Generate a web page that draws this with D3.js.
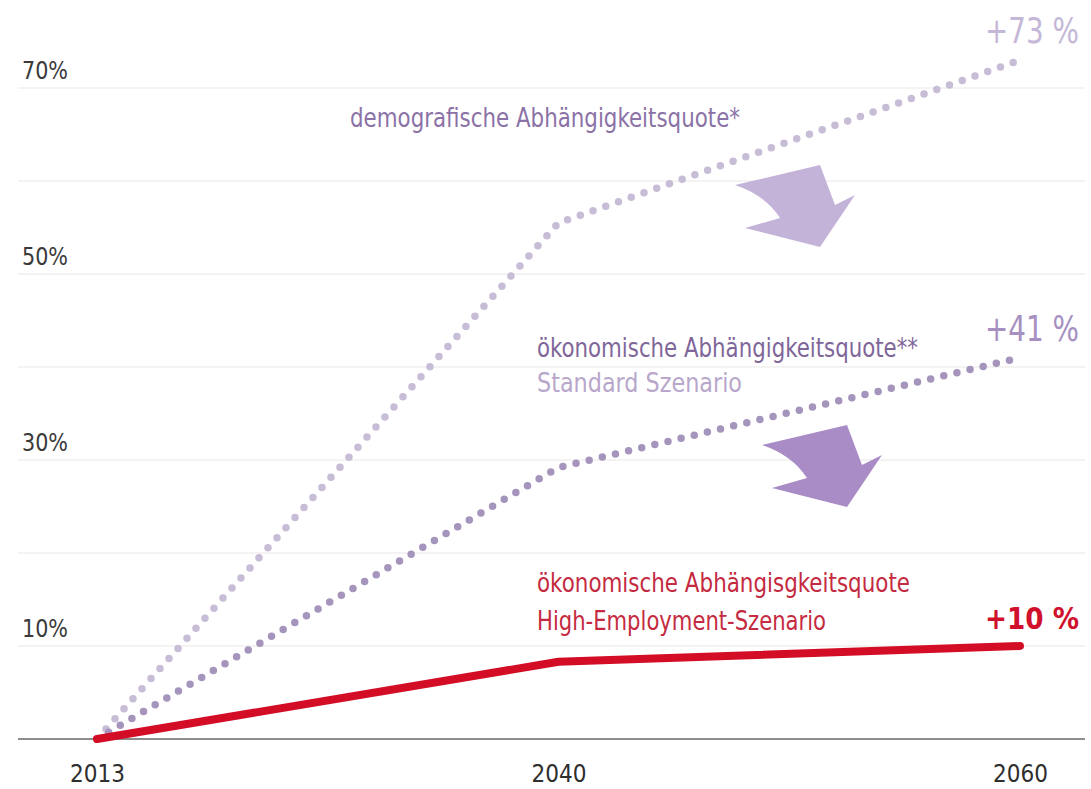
<!DOCTYPE html>
<html><head><meta charset="utf-8">
<script src="https://cdn.jsdelivr.net/npm/d3@7/dist/d3.min.js"></script>
<style>
html,body{margin:0;padding:0;background:#fff;}
text{font-family:"DejaVu Sans Condensed","Liberation Sans Narrow","Roboto",sans-serif;}
</style></head><body>
<svg id="c" width="1091" height="789"></svg>
<script>
const years = ["2013", "2040", "2060"];
const demografisch = [0, 55.5, 73];
const oekoStandard = [0, 29.2, 41];
const oekoHigh = [0, 8.3, 10];
const gridTicks = [10, 20, 30, 40, 50, 60, 70];
const labelTicks = [10, 30, 50, 70];
const endLabels = ["+73 %", "+41 %", "+10 %"];

const svg = d3.select("#c");
const x = d3.scalePoint().domain(years).range([97, 1020]);
const y = d3.scaleLinear().domain([0, 70]).range([739, 88]);

// gridlines
svg.append("g").selectAll("line").data(gridTicks).join("line")
  .attr("x1", 18).attr("x2", 1085)
  .attr("y1", d => y(d)).attr("y2", d => y(d))
  .attr("stroke", "#f0eeee").attr("stroke-width", 1.5);

// y labels
svg.append("g").selectAll("text").data(labelTicks).join("text")
  .attr("x", 22).attr("y", d => y(d) - 9)
  .attr("font-size", 25).attr("fill", "#3a3a3a")
  .attr("textLength", 46).attr("lengthAdjust", "spacingAndGlyphs")
  .text(d => d + "%");

// x axis line
svg.append("line").attr("x1", 18).attr("x2", 1085)
  .attr("y1", y(0)).attr("y2", y(0))
  .attr("stroke", "#8d8d8d").attr("stroke-width", 2);

// x labels
svg.append("g").selectAll("text").data(years).join("text")
  .attr("x", d => x(d) - 27).attr("y", 782)
  .attr("font-size", 25).attr("fill", "#2e2e2e")
  .attr("textLength", 55).attr("lengthAdjust", "spacingAndGlyphs")
  .text(d => d);

const line = d3.line().x((d, i) => x(years[i])).y(d => y(d));

// arrows (decorative)
function arrow(cx, cy, fill) {
  const p = "M0,0 L85,-20 L100,20 L120,10 L85,62 L10,43 L45,33 Q30,10 0,0 Z";
  svg.append("path").attr("d", p).attr("fill", fill)
    .attr("transform", `translate(${cx},${cy})`);
}
arrow(735, 185, "#c4b3d9");
arrow(762, 445, "#a98bc5");

// dotted lines
svg.append("path").datum(demografisch).attr("d", line)
  .attr("fill", "none").attr("stroke", "#c7bdd6").attr("stroke-width", 7.5)
  .attr("stroke-linecap", "round").attr("stroke-dasharray", "0 13.5");
svg.append("path").datum(oekoStandard).attr("d", line)
  .attr("fill", "none").attr("stroke", "#a595bd").attr("stroke-width", 7.5)
  .attr("stroke-linecap", "round").attr("stroke-dasharray", "0 13.5");
// red line
svg.append("path").datum(oekoHigh).attr("d", line)
  .attr("fill", "none").attr("stroke", "#d40d26").attr("stroke-width", 8)
  .attr("stroke-linecap", "round").attr("stroke-linejoin", "round");

// series labels
function lbl(t, xx, yy, fill, w, fs) {
  svg.append("text").attr("x", xx).attr("y", yy).attr("fill", fill)
    .attr("font-size", fs || 26).attr("textLength", w)
    .attr("lengthAdjust", "spacingAndGlyphs").text(t);
}
lbl("demografische Abhängigkeitsquote*", 350, 127, "#8b72a6", 390);
lbl("ökonomische Abhängigkeitsquote**", 537, 357, "#7f6699", 381);
lbl("Standard Szenario", 537, 392, "#b8a7cb", 205);
lbl("ökonomische Abhängisgkeitsquote", 537, 592, "#c42a40", 373);
lbl("High-Employment-Szenario", 537, 630, "#c42a40", 289);

// end labels
const endColors = ["#c4b7d7", "#a690bf", "#d0112b"];
const endVals = [demografisch[2], oekoStandard[2], oekoHigh[2]];
svg.append("g").selectAll("text").data(endLabels).join("text")
  .attr("x", 985).attr("y", (d, i) => y(endVals[i]) - 17)
  .attr("font-size", (d, i) => i === 2 ? 31 : 35)
  .attr("textLength", 94).attr("lengthAdjust", "spacingAndGlyphs")
  .attr("font-weight", (d, i) => i === 2 ? "bold" : "normal")
  .attr("fill", (d, i) => endColors[i])
  .text(d => d);
</script></body></html>
